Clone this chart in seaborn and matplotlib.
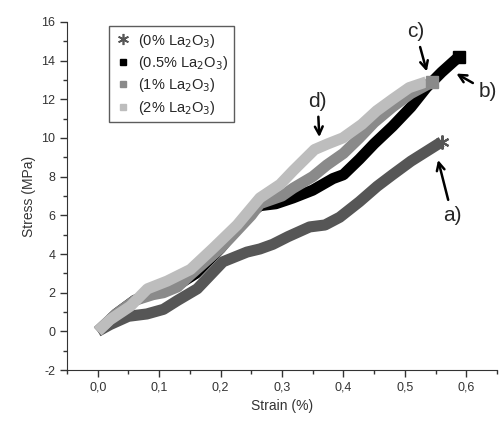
import numpy as np
import pandas as pd
import matplotlib
matplotlib.use("Agg")
import matplotlib.pyplot as plt
import seaborn as sns
from matplotlib.lines import Line2D

# strain (%) / stress (MPa)
strain_0 = [0.0, 0.02, 0.05, 0.08, 0.107, 0.13, 0.162, 0.204, 0.243, 0.264, 0.285, 0.31, 0.345, 0.37, 0.394, 0.426, 0.455, 0.48, 0.51, 0.535, 0.56]
stress_0 = [0.0, 0.35, 0.78, 0.9, 1.14, 1.6, 2.2, 3.6, 4.1, 4.26, 4.5, 4.9, 5.4, 5.5, 5.9, 6.7, 7.5, 8.1, 8.8, 9.3, 9.8]

strain_05 = [0.0, 0.03, 0.06, 0.09, 0.107, 0.13, 0.16, 0.2, 0.24, 0.264, 0.29, 0.318, 0.35, 0.383, 0.4, 0.426, 0.45, 0.48, 0.51, 0.535, 0.56, 0.588]
stress_05 = [0.0, 0.9, 1.6, 2.0, 2.2, 2.4, 3.0, 4.3, 5.9, 6.5, 6.6, 6.9, 7.3, 7.9, 8.1, 8.9, 9.7, 10.6, 11.6, 12.6, 13.4, 14.2]

strain_1 = [0.0, 0.03, 0.06, 0.09, 0.107, 0.13, 0.15, 0.2, 0.25, 0.264, 0.3, 0.318, 0.35, 0.373, 0.4, 0.426, 0.45, 0.48, 0.51, 0.545]
stress_1 = [0.0, 0.9, 1.6, 1.9, 2.0, 2.3, 2.9, 4.3, 6.0, 6.6, 7.0, 7.4, 8.0, 8.6, 9.2, 10.0, 10.8, 11.6, 12.3, 12.9]

strain_2 = [0.0, 0.02, 0.053, 0.081, 0.113, 0.151, 0.188, 0.227, 0.264, 0.297, 0.318, 0.353, 0.375, 0.399, 0.43, 0.454, 0.48, 0.507, 0.535]
stress_2 = [0.0, 0.6, 1.3, 2.2, 2.6, 3.2, 4.3, 5.5, 6.9, 7.6, 8.3, 9.4, 9.7, 10.0, 10.7, 11.4, 12.0, 12.6, 12.9]

labels = ["(0% La$_2$O$_3$)", "(0.5% La$_2$O$_3$)", "(1% La$_2$O$_3$)", "(2% La$_2$O$_3$)"]
colors = ["#565656", "#000000", "#8a8a8a", "#bdbdbd"]

frames = []
for s, v, lab in zip([strain_0, strain_05, strain_1, strain_2],
                     [stress_0, stress_05, stress_1, stress_2], labels):
    frames.append(pd.DataFrame({"strain": s, "stress": v, "sample": lab}))
df = pd.concat(frames, ignore_index=True)

sns.set_style("ticks")
plt.rcParams['font.family'] = ['Liberation Sans', 'DejaVu Sans']
plt.rcParams['axes.unicode_minus'] = False

fig = plt.figure(figsize=(5.04, 4.21), dpi=100)
ax = fig.add_axes([0.133, 0.121, 0.853, 0.827])

sns.lineplot(data=df, x="strain", y="stress", hue="sample", palette=colors,
             sort=False, linewidth=8, legend=False, ax=ax,
             solid_capstyle="butt", solid_joinstyle="round")

# end markers
asterisk = (6, 2, 0)
ax.plot(strain_0[-1], stress_0[-1], marker=asterisk, color=colors[0], ms=10, mew=1.5)
ax.plot(strain_05[-1], stress_05[-1], marker="s", color=colors[1], ms=8)
ax.plot(strain_1[-1], stress_1[-1], marker="s", color=colors[2], ms=8)

ax.set_xlim(-0.05, 0.65)
ax.set_ylim(-2, 16)
ax.set_xticks(np.arange(0, 0.61, 0.1))
ax.set_xticks(np.arange(-0.05, 0.66, 0.05), minor=True)
ax.set_yticks(np.arange(-2, 17, 2))
ax.set_yticks(np.arange(-2, 17, 1), minor=True)
ax.set_xticklabels([f"{t:.1f}".replace(".", ",") for t in np.arange(0, 0.61, 0.1)])
ax.tick_params(which="major", direction="out", length=5, width=1, labelsize=9, colors="#333333")
ax.tick_params(which="minor", direction="out", length=3, width=1, colors="#333333")
for sp in ["top", "right"]:
    ax.spines[sp].set_visible(False)
for sp in ["left", "bottom"]:
    ax.spines[sp].set_color("#333333")
ax.set_xlabel("Strain (%)", fontsize=10, color="#333333")
ax.set_ylabel("Stress (MPa)", fontsize=10, color="#333333")

handles = [Line2D([], [], ls="none", marker=asterisk, color=colors[0], ms=8, mew=1.2),
           Line2D([], [], ls="none", marker="s", color=colors[1], ms=5),
           Line2D([], [], ls="none", marker="s", color=colors[2], ms=5),
           Line2D([], [], ls="none", marker="s", color=colors[3], ms=5)]
leg = ax.legend(handles, labels, loc="upper left", bbox_to_anchor=(0.08, 1.01),
                fontsize=10.5, frameon=True, fancybox=False, handletextpad=0.4,
                borderpad=0.4, labelspacing=0.3, handlelength=1.2)
leg.get_frame().set_edgecolor("#333333")
leg.get_frame().set_linewidth(1)

arrow = dict(arrowstyle="->", color="black", lw=1.8, mutation_scale=14)
ax.annotate("a)", xy=(0.553, 9.0), xytext=(0.577, 6.0), fontsize=15,
            ha="center", va="center", arrowprops=arrow)
ax.annotate("b)", xy=(0.58, 13.4), xytext=(0.635, 12.4), fontsize=15,
            ha="center", va="center", arrowprops=arrow)
ax.annotate("c)", xy=(0.537, 13.3), xytext=(0.518, 15.5), fontsize=15,
            ha="center", va="center", arrowprops=arrow)
ax.annotate("d)", xy=(0.361, 9.9), xytext=(0.358, 11.9), fontsize=15,
            ha="center", va="center", arrowprops=arrow)

fig.savefig("out.png", dpi=100)
